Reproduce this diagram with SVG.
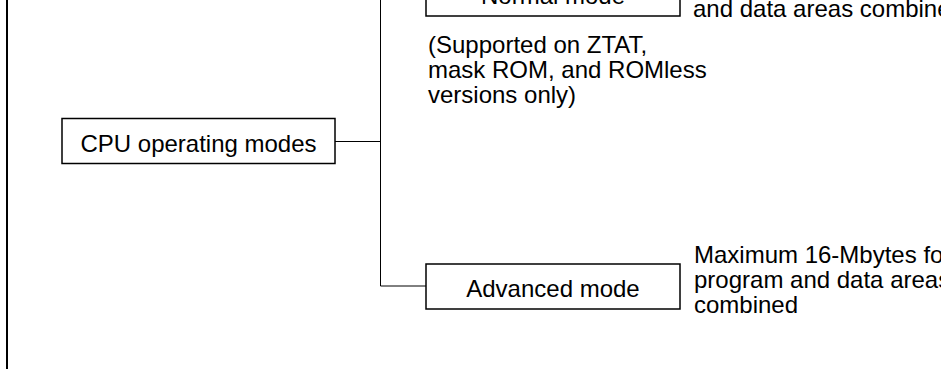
<svg xmlns="http://www.w3.org/2000/svg" width="941" height="369" viewBox="0 0 941 369">
  <style>
    .box { fill: #ffffff; stroke: #000000; stroke-width: 1.5; }
    .wire { fill: none; stroke: #000000; stroke-width: 1; }
    .label { font-family: "Liberation Sans", Arial, sans-serif; font-size: 24px; fill: #000000; }
    .mid { text-anchor: middle; }
  </style>
  <rect width="941" height="369" fill="#ffffff"/>

  <!-- frame edge on the left -->
  <line x1="7" y1="0" x2="7" y2="369" stroke="#000000" stroke-width="2"/>

  <!-- tree connectors -->
  <g id="connectors">
    <path class="wire" d="M335,141.5 H380.5"/>
    <path class="wire" d="M380.5,-6.5 V286 H426"/>
    <path class="wire" d="M380.5,-6.5 H426"/>
  </g>

  <g id="cpu-modes">
    <rect class="box" x="62" y="118.5" width="273" height="45"/>
    <text class="label mid" x="198.5" y="151.5">CPU operating modes</text>
  </g>

  <g id="normal-mode">
    <rect class="box" x="426" y="-29" width="254" height="45"/>
    <text class="label mid" x="553" y="4">Normal mode</text>
    <text class="label" x="428" y="53">(Supported on ZTAT,</text>
    <text class="label" x="428" y="78">mask ROM, and ROMless</text>
    <text class="label" x="428" y="103">versions only)</text>
    <text class="label" x="693" y="17">and data areas combine</text>
  </g>

  <g id="advanced-mode">
    <rect class="box" x="426" y="264" width="254" height="45"/>
    <text class="label mid" x="553" y="297">Advanced mode</text>
    <text class="label" x="694" y="263">Maximum 16-Mbytes fo</text>
    <text class="label" x="694" y="288">program and data areas</text>
    <text class="label" x="694" y="313">combined</text>
  </g>
</svg>
